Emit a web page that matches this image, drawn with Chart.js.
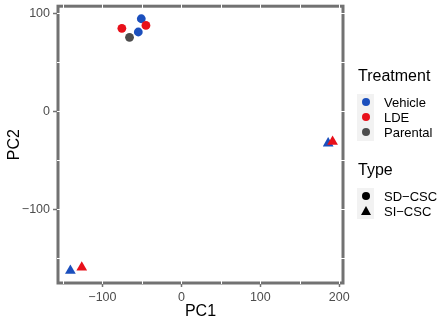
<!DOCTYPE html>
<html>
<head>
<meta charset="utf-8">
<script src="https://cdn.jsdelivr.net/npm/chart.js"></script>
<style>
  body { margin: 0; background: #fff; font-family: "Liberation Sans", Arial, sans-serif; }
  #wrap { position: relative; width: 442px; height: 324px; }
  #legend { position: absolute; left: 357px; top: 0; color: #000; }
  .ttl { position: absolute; left: 1px; font-size: 16px; white-space: nowrap; }
  .keys { position: absolute; left: 0; width: 17px; background: #f2f2f2; }
  .item { position: absolute; left: 27px; font-size: 13px; white-space: nowrap; line-height: 15px; }
  .dot { position: absolute; left: 5px; width: 8px; height: 8px; border-radius: 50%; }
  .tri { position: absolute; left: 4px; width: 0; height: 0; border-left: 5px solid transparent; border-right: 5px solid transparent; border-bottom: 9px solid #000; }
</style>
</head>
<body>
<div id="wrap">
  <canvas id="myChart" width="442" height="324"></canvas>
  <div id="legend">
    <div class="ttl" style="top:67px">Treatment</div>
    <div class="keys" style="top:94px;height:47px"></div>
    <div class="dot" style="top:98px;background:#1b4fbd"></div>
    <div class="dot" style="top:113px;background:#e8101a"></div>
    <div class="dot" style="top:128px;background:#4d4d4d"></div>
    <div class="item" style="top:95px">Vehicle</div>
    <div class="item" style="top:110px">LDE</div>
    <div class="item" style="top:125px">Parental</div>

    <div class="ttl" style="top:161px">Type</div>
    <div class="keys" style="top:188px;height:31px"></div>
    <div class="dot" style="top:192px;background:#000"></div>
    <div class="tri" style="top:206px"></div>
    <div class="item" style="top:189px">SD−CSC</div>
    <div class="item" style="top:204px">SI−CSC</div>
  </div>
</div>

<script>
    // valores (PC1, PC2)
    var vehicleX = [-50.8, -54.6, 185.9, -140.6];
    var vehicleY = [94.2, 80.7, -32.8, -162.8];
    var vehicleType = ['SD-CSC', 'SD-CSC', 'SI-CSC', 'SI-CSC'];

    var ldeX = [-44.9, -75.4, 191.5, -126.2];
    var ldeY = [87.4, 84.4, -31.1, -159.5];
    var ldeType = ['SD-CSC', 'SD-CSC', 'SI-CSC', 'SI-CSC'];

    var parentalX = [-65.7];
    var parentalY = [75.3];
    var parentalType = ['SD-CSC'];

    var xTicks = [-100, 0, 100, 200];
    var yTicks = [-100, 0, 100];

    function puntos(xs, ys) {
        return xs.map(function (x, i) { return { x: x, y: ys[i] }; });
    }
    function estilo(types) {
        return types.map(function (t) { return t === 'SI-CSC' ? 'triangle' : 'circle'; });
    }
    function radio(types) {
        return types.map(function (t) { return t === 'SI-CSC' ? 6.2 : 4.4; });
    }
    function serie(label, xs, ys, types, color, order) {
        return {
            label: label,
            data: puntos(xs, ys),
            pointStyle: estilo(types),
            pointRadius: radio(types),
            pointHoverRadius: radio(types),
            backgroundColor: color,
            borderColor: color,
            borderWidth: 0,
            order: order
        };
    }

    // borde del panel con las lineas blancas de la rejilla
    var panelBorder = {
        id: 'panelBorder',
        afterDatasetsDraw: function (chart) {
            var a = chart.chartArea, ctx = chart.ctx;
            var sx = chart.scales.x, sy = chart.scales.y;
            ctx.save();
            ctx.strokeStyle = '#727272';
            ctx.lineWidth = 3;
            ctx.strokeRect(a.left, a.top, a.right - a.left, a.bottom - a.top);
            ctx.strokeStyle = '#ffffff';
            ctx.lineWidth = 1;
            ctx.beginPath();
            for (var v = -150; v <= 200; v += 50) {
                var px = Math.round(sx.getPixelForValue(v)) + 0.5;
                ctx.moveTo(px, a.top - 2); ctx.lineTo(px, a.top + 2);
                ctx.moveTo(px, a.bottom - 2); ctx.lineTo(px, a.bottom + 1);
            }
            for (var w = -150; w <= 100; w += 50) {
                var py = Math.round(sy.getPixelForValue(w)) + 0.5;
                ctx.moveTo(a.left - 1, py); ctx.lineTo(a.left + 2, py);
                ctx.moveTo(a.right - 2, py); ctx.lineTo(a.right + 2, py);
            }
            ctx.stroke();
            ctx.restore();
        }
    };

    var ctx = document.getElementById('myChart').getContext('2d');
    var myChart = new Chart(ctx, {
        type: 'scatter',
        data: {
            datasets: [
                serie('LDE', ldeX, ldeY, ldeType, '#e8101a', 0),
                serie('Vehicle', vehicleX, vehicleY, vehicleType, '#1b4fbd', 1),
                serie('Parental', parentalX, parentalY, parentalType, '#4d4d4d', 2)
            ]
        },
        options: {
            responsive: false,
            animation: false,
            devicePixelRatio: 1,
            layout: { padding: { top: 3, right: 99, left: 0, bottom: 0 } },
            plugins: { legend: { display: false }, tooltip: { enabled: false } },
            scales: {
                x: {
                    type: 'linear',
                    min: -156.3,
                    max: 204.7,
                    afterBuildTicks: function (s) { s.ticks = xTicks.map(function (v) { return { value: v }; }); },
                    afterFit: function (s) { s.height = 41; s.paddingLeft = 0; s.paddingRight = 0; },
                    grid: { color: '#ffffff', tickColor: '#727272', tickLength: 4, lineWidth: 1, tickWidth: 1.5 },
                    border: { display: false },
                    ticks: {
                        color: '#4d4d4d', padding: 3,
                        font: { family: 'Liberation Sans', size: 12.5 },
                        callback: function (v) { return v < 0 ? '\u2212' + Math.abs(v) : v; }
                    },
                    title: {
                        display: true, text: 'PC1', color: '#000',
                        font: { family: 'Liberation Sans', size: 16 },
                        padding: { top: 0, bottom: 2.4 }
                    }
                },
                y: {
                    type: 'linear',
                    min: -175.3,
                    max: 107,
                    afterBuildTicks: function (s) { s.ticks = yTicks.map(function (v) { return { value: v }; }); },
                    afterFit: function (s) { s.width = 58; s.paddingTop = 0; s.paddingBottom = 0; },
                    grid: { color: '#ffffff', tickColor: '#727272', tickLength: 5, lineWidth: 1, tickWidth: 1.5 },
                    border: { display: false },
                    ticks: {
                        color: '#4d4d4d', padding: 3,
                        font: { family: 'Liberation Sans', size: 12.5 },
                        callback: function (v) { return v < 0 ? '\u2212' + Math.abs(v) : v; }
                    },
                    title: {
                        display: true, text: 'PC2', color: '#000',
                        font: { family: 'Liberation Sans', size: 16 },
                        padding: { top: 5, bottom: 0 }
                    }
                }
            }
        },
        plugins: [panelBorder]
    });
</script>
</body>
</html>
